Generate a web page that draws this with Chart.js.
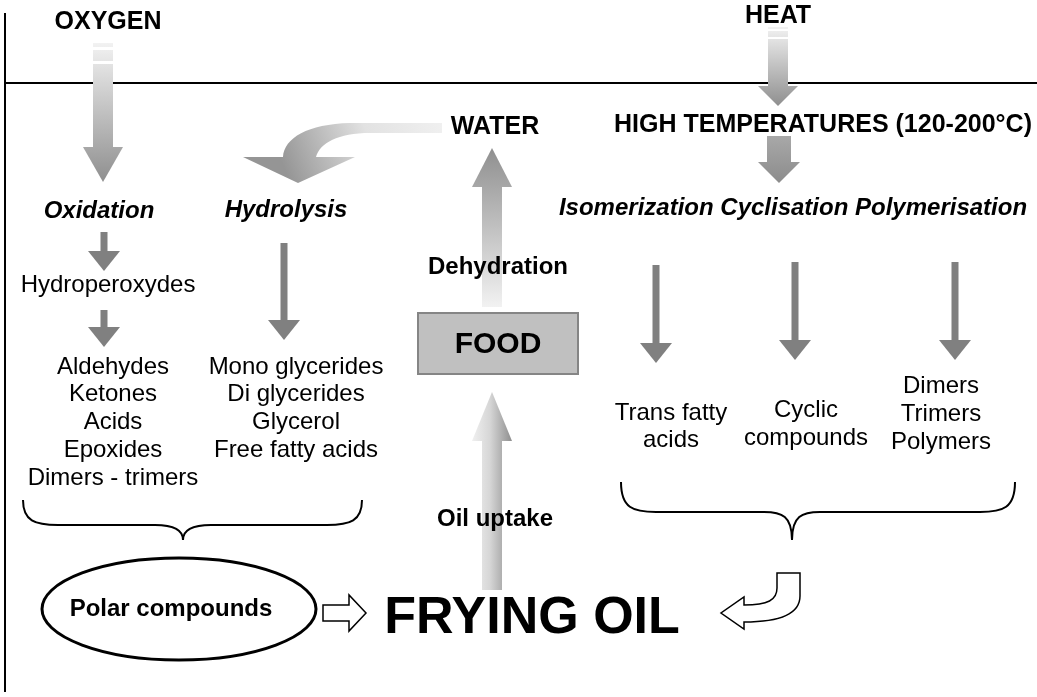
<!DOCTYPE html>
<html><head><meta charset="utf-8">
<script src="https://cdn.jsdelivr.net/npm/chart.js@4.4.1/dist/chart.umd.min.js"></script>
<style>html,body{margin:0;padding:0;background:#fff;overflow:hidden}#wrap{width:1037px;height:697px;position:relative}</style>
</head><body><div id="wrap"><canvas id="c" width="1037" height="697"></canvas></div>
<script>
// ---- diagram content (diagram units: x 0..1037 left→right, y 0..697 top→bottom) ----
const sourceText = ['OXYGEN', 'HEAT', 'WATER', 'HIGH TEMPERATURES (120-200°C)'];
const sourceX = [108, 778, 495, 823];
const sourceY = [22, 16, 127, 125];

const processText = ['Oxidation', 'Hydrolysis', 'Isomerization Cyclisation Polymerisation'];
const processX = [99, 286, 793];
const processY = [211, 210, 208];

const productText = ['Hydroperoxydes', 'Aldehydes', 'Ketones', 'Acids', 'Epoxides', 'Dimers - trimers',
  'Mono glycerides', 'Di glycerides', 'Glycerol', 'Free fatty acids',
  'Trans fatty', 'acids', 'Cyclic', 'compounds', 'Dimers', 'Trimers', 'Polymers'];
const productX = [108, 113, 113, 113, 113, 113, 296, 296, 296, 296, 671, 671, 806, 806, 941, 941, 941];
const productY = [285, 367, 394, 422, 450, 478, 367, 394, 422, 450, 413, 440, 410, 438, 386, 414, 442];

const flowText = ['Dehydration', 'Oil uptake', 'Polar compounds'];
const flowX = [498, 495, 171];
const flowY = [267, 519, 609];

const foodText = ['FOOD'];
const foodX = [498];
const foodY = [345];

const oilText = ['FRYING OIL'];
const oilX = [532];
const oilY = [619];

// big shaded block arrows: centre x, tail y, head-base y, tip y
const blockArrowX = [103, 778, 779, 492, 492];
const blockArrowTail = [43, 27, 136, 307, 590];
const blockArrowHead = [147, 86, 162, 187, 441];
const blockArrowTip = [182, 106, 183, 148, 392];

// thin dark arrows: centre x, tail y, tip y
const thinArrowX = [104, 104, 284, 656, 795, 955];
const thinArrowTail = [232, 310, 243, 265, 262, 262];
const thinArrowTip = [271, 347, 340, 363, 360, 360];

// curly braces: left x, right x, tip x, top y, bar y, tip y
const braceLeft = [23, 621];
const braceRight = [362, 1015];
const braceTipX = [183, 792];
const braceTop = [500, 482];
const braceBar = [525, 512];
const braceTipY = [540, 540];

const FONT = "'Liberation Sans', Arial, Helvetica, sans-serif";
const textStyles = [
  { font: 'bold 25px ' + FONT },
  { font: 'italic bold 24px ' + FONT },
  { font: '24px ' + FONT },
  { font: 'bold 24px ' + FONT },
  { font: 'bold 30px ' + FONT },
  { font: 'bold 52px ' + FONT }
];

function pts(xs, ys) { return xs.map((x, i) => ({ x: x, y: ys[i] })); }

const textGroups = [
  [sourceText, sourceX, sourceY],
  [processText, processX, processY],
  [productText, productX, productY],
  [flowText, flowX, flowY],
  [foodText, foodX, foodY],
  [oilText, oilX, oilY]
];

const diagramPlugin = {
  id: 'diagram',
  beforeDatasetsDraw(chart) {
    const ctx = chart.ctx;
    const sx = chart.scales.x, sy = chart.scales.y;
    const X = v => sx.getPixelForValue(v);
    const Y = v => sy.getPixelForValue(v);
    ctx.save();
    ctx.fillStyle = '#fff';
    ctx.fillRect(0, 0, chart.width, chart.height);

    // frame lines
    ctx.strokeStyle = '#000';
    ctx.lineWidth = 2;
    ctx.beginPath();
    ctx.moveTo(X(5), Y(13)); ctx.lineTo(X(5), Y(692));
    ctx.moveTo(X(4), Y(83)); ctx.lineTo(X(1037), Y(83));
    ctx.stroke();

    // block arrows
    const shaftHalf = [10, 10, 12, 10, 10];
    const headHalf = [20, 20, 21, 20, 20];
    for (let i = 0; i < blockArrowX.length; i++) {
      const cx = X(blockArrowX[i]);
      const tail = Y(blockArrowTail[i]), hb = Y(blockArrowHead[i]), tip = Y(blockArrowTip[i]);
      const sh = shaftHalf[i], hh = headHalf[i];
      let g;
      if (i === 4) {
        g = ctx.createLinearGradient(cx - hh, 0, cx + hh, 0);
        g.addColorStop(0, '#f0f0f0'); g.addColorStop(0.45, '#d6d6d6'); g.addColorStop(1, '#8e8e8e');
      } else if (i === 2) {
        g = ctx.createLinearGradient(0, tail, 0, tip);
        g.addColorStop(0, '#a8a8a8'); g.addColorStop(1, '#8c8c8c');
      } else {
        g = ctx.createLinearGradient(0, tail, 0, tip);
        g.addColorStop(0, '#f2f2f2'); g.addColorStop(1, '#8f8f8f');
      }
      ctx.fillStyle = g;
      // shaft (with fading stripes for the two source arrows)
      if (i === 0 || i === 1) {
        const L = hb - tail;
        const segs = i === 0 ? [[0, 4], [7, 18], [21, L]] : [[0, 2], [4, 10], [12, L]];
        segs.forEach(s => ctx.fillRect(cx - sh, tail + s[0], sh * 2, s[1] - s[0]));
      } else {
        const top = Math.min(tail, hb), bot = Math.max(tail, hb);
        ctx.fillRect(cx - sh, top, sh * 2, bot - top);
      }
      ctx.beginPath();
      ctx.moveTo(cx - hh, hb); ctx.lineTo(cx + hh, hb); ctx.lineTo(cx, tip); ctx.closePath();
      ctx.fill();
    }

    // water curved arrow
    {
      const g = ctx.createLinearGradient(X(442), Y(123), X(290), Y(183));
      g.addColorStop(0, '#f0f0f0'); g.addColorStop(0.45, '#e2e2e2'); g.addColorStop(1, '#959595');
      ctx.fillStyle = g;
      ctx.beginPath();
      ctx.moveTo(X(442), Y(123));
      ctx.lineTo(X(350), Y(123));
      ctx.bezierCurveTo(X(308), Y(124), X(284), Y(138), X(283), Y(157));
      ctx.lineTo(X(243), Y(157));
      ctx.lineTo(X(298), Y(183));
      ctx.lineTo(X(355), Y(157));
      ctx.lineTo(X(316), Y(157));
      ctx.bezierCurveTo(X(320), Y(143), X(338), Y(133), X(370), Y(133));
      ctx.lineTo(X(442), Y(133));
      ctx.closePath();
      ctx.fill();
    }

    // thin arrows
    ctx.fillStyle = '#808080';
    for (let i = 0; i < thinArrowX.length; i++) {
      const cx = X(thinArrowX[i]), t = Y(thinArrowTail[i]), p = Y(thinArrowTip[i]);
      const hb = p - 20;
      ctx.fillRect(cx - 3.5, t, 7, hb - t + 1);
      ctx.beginPath();
      ctx.moveTo(cx - 16, hb); ctx.lineTo(cx + 16, hb); ctx.lineTo(cx, p); ctx.closePath();
      ctx.fill();
    }

    // FOOD box
    ctx.fillStyle = '#c0c0c0';
    ctx.strokeStyle = '#858585';
    ctx.lineWidth = 2;
    ctx.fillRect(X(418), Y(313), X(578) - X(418), Y(374) - Y(313));
    ctx.strokeRect(X(418), Y(313), X(578) - X(418), Y(374) - Y(313));

    // braces
    ctx.strokeStyle = '#000';
    ctx.lineWidth = 2;
    for (let i = 0; i < braceLeft.length; i++) {
      const l = X(braceLeft[i]), r = X(braceRight[i]), m = X(braceTipX[i]);
      const t = Y(braceTop[i]), b = Y(braceBar[i]), tp = Y(braceTipY[i]);
      ctx.beginPath();
      ctx.moveTo(l, t);
      ctx.bezierCurveTo(l, b - 4, l + 12, b, l + 35, b);
      ctx.lineTo(m - 28, b);
      ctx.bezierCurveTo(m - 10, b, m, b + 4, m, tp);
      ctx.bezierCurveTo(m, b + 4, m + 10, b, m + 28, b);
      ctx.lineTo(r - 35, b);
      ctx.bezierCurveTo(r - 12, b, r, b - 4, r, t);
      ctx.stroke();
    }

    // polar compounds ellipse
    ctx.lineWidth = 3;
    ctx.beginPath();
    ctx.ellipse(X(179), Y(609), 137, 51, 0, 0, Math.PI * 2);
    ctx.stroke();

    // outline arrow to the right
    ctx.lineWidth = 1.5;
    ctx.fillStyle = '#fff';
    ctx.beginPath();
    ctx.moveTo(X(323), Y(605)); ctx.lineTo(X(349), Y(605)); ctx.lineTo(X(349), Y(595));
    ctx.lineTo(X(366), Y(613)); ctx.lineTo(X(349), Y(631)); ctx.lineTo(X(349), Y(621));
    ctx.lineTo(X(323), Y(621)); ctx.closePath();
    ctx.fill(); ctx.stroke();

    // bent outline arrow
    ctx.beginPath();
    ctx.moveTo(X(777), Y(573)); ctx.lineTo(X(800), Y(573)); ctx.lineTo(X(800), Y(596));
    ctx.bezierCurveTo(X(800), Y(614), X(780), Y(622), X(744), Y(622));
    ctx.lineTo(X(744), Y(629)); ctx.lineTo(X(721), Y(613)); ctx.lineTo(X(744), Y(597));
    ctx.lineTo(X(744), Y(605));
    ctx.bezierCurveTo(X(768), Y(605), X(777), Y(600), X(777), Y(588));
    ctx.closePath();
    ctx.fill(); ctx.stroke();
    ctx.restore();
  },
  afterDatasetsDraw(chart) {
    const ctx = chart.ctx;
    ctx.save();
    ctx.fillStyle = '#000';
    ctx.textAlign = 'center';
    ctx.textBaseline = 'middle';
    chart.data.datasets.forEach((ds, i) => {
      const meta = chart.getDatasetMeta(i);
      ctx.font = textStyles[i].font;
      meta.data.forEach((el, j) => ctx.fillText(ds.texts[j], el.x, el.y));
    });
    ctx.restore();
  }
};

new Chart(document.getElementById('c'), {
  type: 'scatter',
  data: {
    datasets: textGroups.map(g => ({
      data: pts(g[1], g[2]),
      texts: g[0],
      pointRadius: 0,
      pointHoverRadius: 0,
      showLine: false
    }))
  },
  options: {
    responsive: false,
    animation: false,
    events: [],
    layout: { padding: 0 },
    plugins: { legend: { display: false }, tooltip: { enabled: false }, title: { display: false } },
    scales: {
      x: { type: 'linear', min: 0, max: 1037, display: false },
      y: { type: 'linear', min: 0, max: 697, reverse: true, display: false }
    }
  },
  plugins: [diagramPlugin]
});
</script>
</body></html>
